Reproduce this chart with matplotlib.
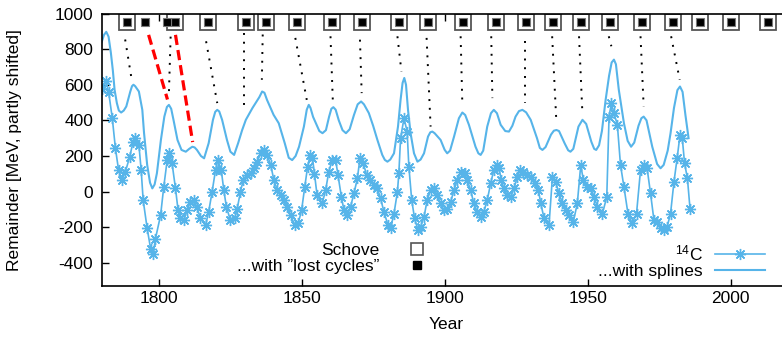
import matplotlib
matplotlib.use('Agg')
import matplotlib.pyplot as plt
from matplotlib.lines import Line2D

plt.rcParams['font.family'] = ['Liberation Sans', 'DejaVu Sans']
plt.rcParams['mathtext.fontset'] = 'custom'
plt.rcParams['mathtext.rm'] = 'Liberation Sans'
plt.rcParams['axes.unicode_minus'] = False

blue = '#56b4e9'

# 14C remainder
c14_year = [1780.3, 1781.6, 1782.5, 1783.8, 1784.9, 1786.0, 1787.2, 1788.4, 1789.9, 1791.1,
            1791.9, 1793.1, 1793.9, 1794.6, 1796.0, 1797.2, 1798.1, 1798.9, 1800.7, 1801.8,
            1803.0, 1803.8, 1804.7, 1805.9, 1806.8, 1807.6, 1808.8, 1810.0, 1811.1, 1812.3,
            1813.4, 1814.6, 1816.4, 1817.5, 1818.7, 1819.9, 1820.7, 1821.9, 1822.8, 1823.7,
            1825.1, 1826.6, 1827.5, 1828.6, 1829.6, 1830.8, 1832.2, 1833.3, 1834.5, 1835.7,
            1836.8, 1838.0, 1839.2, 1840.3, 1841.5, 1842.7, 1843.8, 1845.0, 1846.2, 1847.6,
            1848.8, 1850.0, 1851.1, 1852.1, 1853.0, 1853.8, 1854.5, 1855.4, 1857.2, 1858.4,
            1859.5, 1860.7, 1861.9, 1862.7, 1863.9, 1864.8, 1866.0, 1867.1, 1868.3, 1869.5,
            1870.4, 1871.6, 1872.7, 1873.9, 1875.3, 1876.5, 1877.6, 1878.8, 1880.2, 1881.1,
            1882.3, 1883.5, 1884.0, 1884.6, 1885.8, 1886.9, 1887.5, 1888.5, 1889.5, 1890.7,
            1891.6, 1892.8, 1893.9, 1895.1, 1896.3, 1897.4, 1898.6, 1899.8, 1900.9, 1902.1,
            1903.3, 1904.4, 1905.8, 1907.0, 1907.9, 1909.1, 1910.2, 1911.4, 1912.8, 1913.7,
            1914.9, 1916.1, 1917.2, 1918.2, 1919.0, 1919.8, 1920.7, 1921.9, 1923.1, 1924.3,
            1925.4, 1926.3, 1927.5, 1928.7, 1930.1, 1931.5, 1932.8, 1933.6, 1934.8, 1936.5,
            1937.7, 1938.8, 1940.0, 1941.2, 1942.3, 1943.5, 1945.0, 1946.4, 1947.6, 1948.5,
            1949.9, 1951.1, 1952.3, 1953.4, 1955.2, 1956.7, 1957.5, 1958.3, 1959.2, 1960.4,
            1961.5, 1962.7, 1964.1, 1965.6, 1967.1, 1968.5, 1969.6, 1970.8, 1972.0, 1973.2,
            1974.3, 1975.5, 1976.6, 1977.8, 1979.0, 1980.2, 1981.3, 1982.3, 1983.1, 1983.9,
            1984.9, 1985.8]
c14_val = [576, 619, 562, 412, 243, 121, 65, 112, 196, 281,
           300, 262, 121, -48, -207, -320, -348, -264, -132, 27,
           177, 215, 159, 18, -104, -151, -161, -104, -57, -48,
           -86, -151, -189, -114, -1, 121, 177, 121, 8, -86,
           -161, -151, -95, -1, 65, 93, 103, 131, 168, 215,
           234, 206, 149, 65, 8, -20, -48, -86, -132, -189,
           -179, -104, 27, 140, 206, 187, 100, -20, -66, 8,
           112, 177, 177, 93, -29, -104, -132, -86, -10, 74,
           187, 159, 93, 65, 37, 18, -38, -114, -189, -207,
           -123, -1, 103, 300, 412, 337, 140, -48, -151, -217,
           -198, -142, -48, 8, 18, -20, -66, -104, -95, -57,
           8, 65, 112, 103, 65, 8, -66, -114, -142, -114,
           -48, 46, 121, 149, 131, 65, 18, -20, -29, 18,
           84, 121, 112, 93, 80, 50, 10, -66, -151, -189,
           84, 56, -10, -66, -104, -132, -170, -66, 149, 65,
           27, 18, -29, -86, -123, -29, 421, 497, 441, 375,
           149, 27, -123, -179, -123, 121, 149, 131, -10, -161,
           -170, -207, -217, -198, -123, 56, 187, 318, 300, 159,
           74, -95]

# spline through the remainder, shifted upwards
spl_year = [1780.1, 1780.9, 1781.7, 1782.5, 1783.3, 1784.0, 1784.6, 1785.4, 1786.1, 1786.9,
            1787.8, 1788.7, 1790.1, 1790.7, 1791.2, 1791.8, 1793.1, 1794.3, 1794.9, 1796.0,
            1797.0, 1797.8, 1798.6, 1799.4, 1800.8, 1802.0, 1802.9, 1803.6, 1804.4, 1805.2,
            1806.6, 1808.0, 1809.5, 1810.7, 1811.8, 1812.6, 1813.4, 1814.8, 1815.9, 1817.5,
            1819.0, 1819.8, 1820.5, 1821.2, 1822.2, 1823.9, 1825.1, 1826.4, 1827.8, 1829.2,
            1830.5, 1832.8, 1835.2, 1836.2, 1837.0, 1837.9, 1840.2, 1842.0, 1844.1, 1845.5,
            1846.7, 1847.9, 1849.1, 1850.8, 1851.8, 1852.5, 1853.1, 1854.0, 1855.0, 1856.2,
            1857.3, 1858.5, 1859.6, 1860.4, 1861.1, 1861.9, 1863.0, 1864.3, 1865.5, 1866.8,
            1868.3, 1869.6, 1870.8, 1871.8, 1873.5, 1875.0, 1876.5, 1878.2, 1879.1, 1880.0,
            1881.0, 1882.3, 1883.7, 1884.6, 1885.3, 1885.9, 1886.5, 1887.2, 1888.1, 1889.3,
            1890.5, 1891.6, 1892.8, 1894.2, 1895.0, 1895.7, 1896.5, 1898.6, 1900.0, 1900.9,
            1901.9, 1903.3, 1905.0, 1906.2, 1907.2, 1908.5, 1910.8, 1911.8, 1912.6, 1913.5,
            1914.9, 1916.2, 1917.2, 1918.3, 1919.6, 1921.2, 1922.5, 1923.7, 1924.8, 1926.0,
            1927.2, 1928.5, 1930.1, 1932.3, 1933.3, 1934.2, 1935.3, 1937.2, 1938.2, 1939.1,
            1940.0, 1942.0, 1943.2, 1944.0, 1945.0, 1946.8, 1948.2, 1949.5, 1951.3, 1952.3,
            1953.0, 1954.0, 1955.0, 1956.3, 1957.5, 1958.4, 1959.2, 1959.9, 1960.9, 1962.7,
            1964.0, 1965.2, 1966.3, 1967.8, 1968.8, 1969.6, 1970.6, 1972.6, 1974.3, 1975.5,
            1976.6, 1978.0, 1979.0, 1980.2, 1981.4, 1982.3, 1983.2, 1984.2, 1985.3]
spl_val = [840, 880, 897, 870, 780, 680, 572, 497, 455, 444,
           455, 478, 562, 592, 600, 592, 562, 459, 330, 150,
           50, 18, 40, 103, 290, 421, 475, 487, 465, 403,
           290, 234, 224, 240, 252, 248, 234, 200, 187, 272,
           403, 448, 459, 450, 403, 290, 224, 206, 272, 345,
           403, 469, 530, 562, 555, 515, 431, 384, 272, 190,
           177, 200, 252, 365, 460, 487, 470, 420, 384, 340,
           328, 345, 420, 465, 474, 460, 400, 345, 328, 350,
           430, 490, 506, 490, 441, 370, 290, 206, 178, 168,
           180, 215, 365, 515, 610, 638, 600, 459, 328, 215,
           168, 180, 215, 309, 333, 337, 328, 290, 235, 215,
           230, 309, 412, 444, 430, 375, 252, 215, 206, 230,
           365, 440, 459, 440, 375, 340, 337, 370, 421, 452,
           459, 445, 403, 300, 245, 234, 250, 320, 342, 346,
           340, 270, 232, 224, 240, 365, 403, 380, 280, 240,
           234, 260, 340, 515, 650, 725, 741, 715, 572, 384,
           285, 252, 275, 370, 412, 421, 400, 252, 155, 131,
           150, 230, 328, 470, 570, 590, 560, 430, 300]

# Schove's maxima and the set including the "lost cycles"
schove = [1788.8, 1805.6, 1817.1, 1830.4, 1837.4, 1848.3, 1860.5, 1871.0, 1883.9, 1894.1,
          1906.3, 1917.8, 1928.3, 1937.8, 1947.6, 1958.0, 1968.9, 1979.7, 1989.2, 2000.0,
          2012.9]
lost = [1795.1, 1802.8]
marker_level = 950

# dotted connectors: maximum -> spline peak
dot_x0 = [1788.3, 1804.2, 1816.6, 1829.8, 1836.4, 1847.8, 1860.1, 1870.4, 1883.5, 1893.7,
          1905.6, 1916.3, 1928.0, 1937.6, 1947.0, 1957.4, 1968.5, 1979.2]
dot_y0 = [854, 870, 844, 891, 882, 863, 872, 853, 872, 863,
          872, 872, 844, 872, 872, 872, 872, 872]
dot_x1 = [1790.4, 1803.6, 1820.5, 1829.8, 1836.1, 1851.8, 1860.9, 1871.0, 1884.9, 1895.1,
          1906.2, 1916.7, 1928.0, 1939.1, 1948.2, 1958.3, 1969.6, 1982.2]
dot_y1 = [647, 553, 497, 459, 628, 515, 515, 553, 675, 365,
          487, 525, 497, 384, 431, 816, 478, 628]

# red dashed connectors for the lost-cycle reading
red_x0 = [1796.5, 1805.9]
red_y0 = [880, 880]
red_x1 = [1803.1, 1811.9]
red_y1 = [517, 278]

fig = plt.figure(figsize=(7.82, 3.43), dpi=100)
ax = fig.add_axes([101.7 / 782, 1 - 286 / 343, (790 - 101.7) / 782, (286 - 13.5) / 343])

for x0, y0, x1, y1 in zip(dot_x0, dot_y0, dot_x1, dot_y1):
    ax.plot([x0, x1], [y0, y1], color='k', lw=1.4, linestyle=(0, (1, 3.5)))
for x0, y0, x1, y1 in zip(red_x0, red_y0, red_x1, red_y1):
    ax.plot([x0, x1], [y0, y1], color='#ff0000', lw=2.3, linestyle=(0, (3.2, 1.6)))

ax.plot(spl_year, spl_val, color=blue, lw=1.5)
ax.plot(c14_year, c14_val, color=blue, lw=1.2, marker=(8, 2, 0), ms=8, mew=1.0)

ax.plot(schove, [marker_level] * len(schove), ls='none', marker='s', ms=11,
        mfc='white', mec='#555555', mew=1.3)
ax.plot(schove + lost, [marker_level] * (len(schove) + len(lost)), ls='none', marker='s',
        ms=5.5, mfc='k', mec='#777777', mew=0.8)

ax.set_xlim(1780.1, 1780.1 + (790 - 101.7) / 2.86)
ax.set_ylim(-530, 1000)
ax.set_xticks([1800, 1850, 1900, 1950, 2000])
ax.set_yticks(range(-400, 1001, 200))
ax.tick_params(direction='in', top=True, right=False, length=5, width=1, labelsize=12.5)
ax.tick_params(axis='y', pad=6)
ax.spines['right'].set_visible(False)
for s in ['left', 'bottom', 'top']:
    ax.spines[s].set_linewidth(1.2)

ax.set_xlabel('Year', fontsize=12.5, labelpad=8)
fig.text(15 / 782, 1 - 150 / 343, 'Remainder [MeV, partly shifted]', rotation=90,
         ha='center', va='center', fontsize=12.5)

h_schove = Line2D([], [], ls='none', marker='s', ms=9, mfc='white', mec='#555555', mew=1.2)
h_lost = Line2D([], [], ls='none', marker='s', ms=5.5, mfc='k', mec='k')
leg1 = ax.legend([h_schove, h_lost], ['Schove', '...with \u201dlost cycles\u201d'],
                 markerfirst=False, frameon=False, fontsize=12.5, loc='upper right',
                 bbox_to_anchor=(442 / 782, 1 - 243 / 343), bbox_transform=fig.transFigure,
                 borderpad=0, borderaxespad=0, handlelength=2.9, handletextpad=0.7,
                 labelspacing=0.05)
ax.add_artist(leg1)

h_c14 = Line2D([], [], color=blue, lw=1.2, marker=(8, 2, 0), ms=8, mew=1.0)
h_spl = Line2D([], [], color=blue, lw=1.5)
ax.legend([h_c14, h_spl], [r'$\mathrm{^{14}C}$', '...with splines'],
          markerfirst=False, frameon=False, fontsize=12.5, loc='upper right',
          bbox_to_anchor=(765 / 782, 1 - 243 / 343), bbox_transform=fig.transFigure,
          borderpad=0, borderaxespad=0, handlelength=2.9, handletextpad=0.7,
          labelspacing=0.05)

fig.savefig('out.png', dpi=100)
